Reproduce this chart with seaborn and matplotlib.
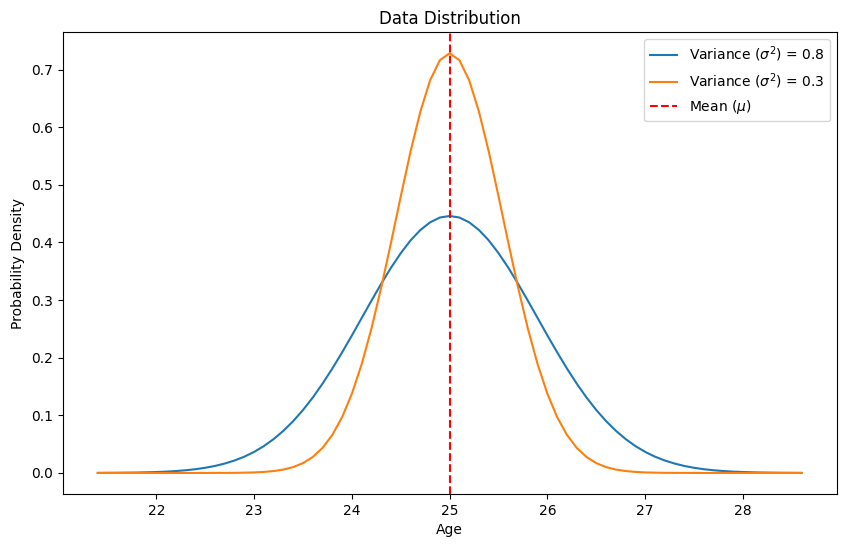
import matplotlib
matplotlib.use("Agg")
import matplotlib.pyplot as plt
import pandas as pd
import seaborn as sns

# values
age = [21.4, 21.5, 21.6, 21.7, 21.8, 21.9, 22.0, 22.1, 22.2, 22.3, 22.4, 22.5,
       22.6, 22.7, 22.8, 22.9, 23.0, 23.1, 23.2, 23.3, 23.4, 23.5, 23.6, 23.7,
       23.8, 23.9, 24.0, 24.1, 24.2, 24.3, 24.4, 24.5, 24.6, 24.7, 24.8, 24.9,
       25.0,
       25.1, 25.2, 25.3, 25.4, 25.5, 25.6, 25.7, 25.8, 25.9, 26.0, 26.1, 26.2,
       26.3, 26.4, 26.5, 26.6, 26.7, 26.8, 26.9, 27.0, 27.1, 27.2, 27.3, 27.4,
       27.5, 27.6, 27.7, 27.8, 27.9, 28.0, 28.1, 28.2, 28.3, 28.4, 28.5, 28.6]

density_var08 = [0.0001, 0.0002, 0.0003, 0.0005, 0.0007, 0.0011, 0.0016, 0.0023, 0.0033,
                 0.0047, 0.0065, 0.0090, 0.0122, 0.0164, 0.0217, 0.0283, 0.0366, 0.0467,
                 0.0589, 0.0733, 0.0901, 0.1093, 0.1310, 0.1551, 0.1813, 0.2094, 0.2387,
                 0.2689, 0.2990, 0.3284, 0.3562, 0.3815, 0.4036, 0.4216, 0.4350, 0.4433,
                 0.4460,
                 0.4433, 0.4350, 0.4216, 0.4036, 0.3815, 0.3562, 0.3284, 0.2990, 0.2689,
                 0.2387, 0.2094, 0.1813, 0.1551, 0.1310, 0.1093, 0.0901, 0.0733, 0.0589,
                 0.0467, 0.0366, 0.0283, 0.0217, 0.0164, 0.0122, 0.0090, 0.0065, 0.0047,
                 0.0033, 0.0023, 0.0016, 0.0011, 0.0007, 0.0005, 0.0003, 0.0002, 0.0001]

density_var03 = [0.0, 0.0, 0.0, 0.0, 0.0, 0.0, 0.0, 0.0, 0.0, 0.0, 0.0, 0.0,
                 0.0001, 0.0001, 0.0002, 0.0005, 0.0009, 0.0018, 0.0033, 0.0059, 0.0102,
                 0.0171, 0.0278, 0.0436, 0.0661, 0.0969, 0.1376, 0.1888, 0.2507, 0.3219,
                 0.3997, 0.4802, 0.5579, 0.6269, 0.6814, 0.7163,
                 0.7284,
                 0.7163, 0.6814, 0.6269, 0.5579, 0.4802, 0.3997, 0.3219, 0.2507, 0.1888,
                 0.1376, 0.0969, 0.0661, 0.0436, 0.0278, 0.0171, 0.0102, 0.0059, 0.0033,
                 0.0018, 0.0009, 0.0005, 0.0002, 0.0001, 0.0001,
                 0.0, 0.0, 0.0, 0.0, 0.0, 0.0, 0.0, 0.0, 0.0, 0.0, 0.0, 0.0]

mean_age = 25.0

df = pd.DataFrame({'age': age, 'var08': density_var08, 'var03': density_var03})

fig, ax = plt.subplots(figsize=(8.46, 5.47), dpi=100)
fig.subplots_adjust(left=0.074, right=0.989, top=0.941, bottom=0.097)

sns.lineplot(data=df, x='age', y='var08', ax=ax, color='tab:blue',
             label='Variance ($\\sigma^2$) = 0.8')
sns.lineplot(data=df, x='age', y='var03', ax=ax, color='tab:orange',
             label='Variance ($\\sigma^2$) = 0.3')
ax.axvline(mean_age, color='red', linestyle='--', label='Mean ($\\mu$)')

ax.set_title('Data Distribution')
ax.set_xlabel('Age')
ax.set_ylabel('Probability Density')
ax.legend(loc='upper right')

fig.savefig('out.png', dpi=100)
